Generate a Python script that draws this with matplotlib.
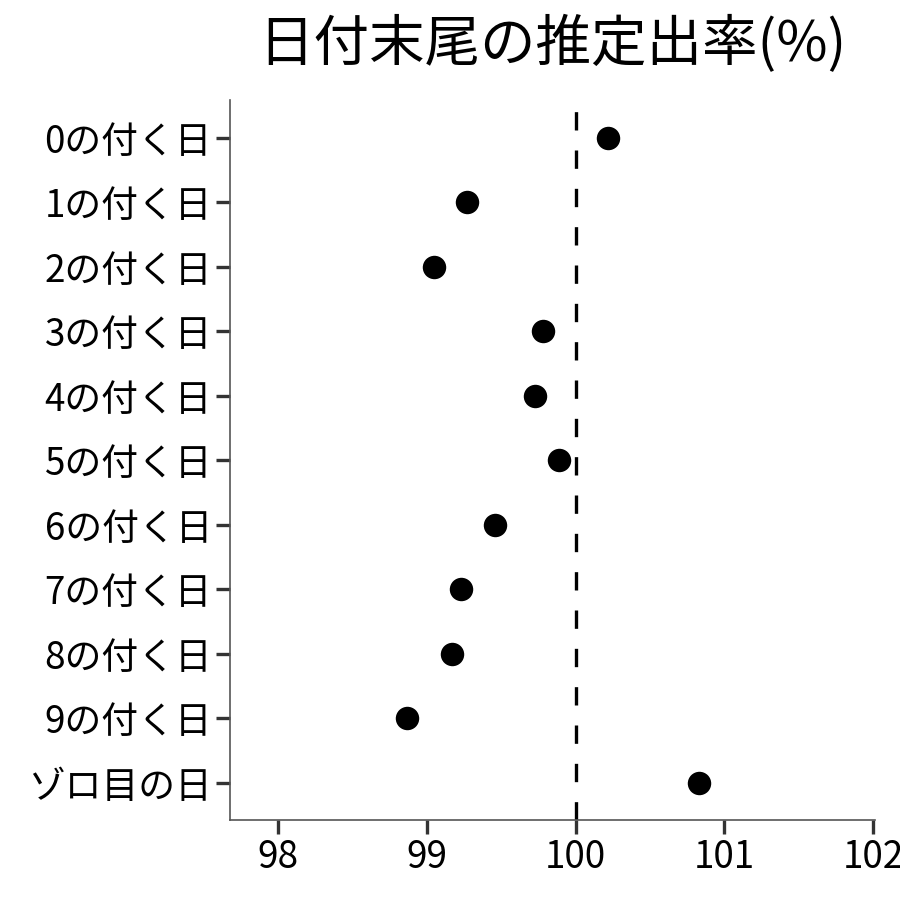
import matplotlib
matplotlib.use("Agg")
import matplotlib.pyplot as plt

plt.rcParams['font.family'] = ['Noto Sans CJK JP', 'DejaVu Sans']

# 日付末尾ごとの推定出率(%)
labels = ["0の付く日", "1の付く日", "2の付く日", "3の付く日", "4の付く日",
          "5の付く日", "6の付く日", "7の付く日", "8の付く日", "9の付く日", "ゾロ目の日"]
rates = [100.22, 99.27, 99.05, 99.78, 99.73, 99.89, 99.46, 99.23, 99.17, 98.87, 100.83]
xticks = [98, 99, 100, 101, 102]

fig = plt.figure(figsize=(9, 9), dpi=100)
ax = fig.add_axes([0.2556, 0.0889, 0.7164, 0.8])

ypos = list(range(len(labels)))[::-1]
ax.axvline(100, color="black", lw=2.4, linestyle=(0, (5.5, 6.0)), zorder=1)
ax.scatter(rates, ypos, s=285, color="black", zorder=3, linewidths=0)

ax.set_yticks(ypos)
ax.set_yticklabels(labels)
ax.set_xticks(xticks)
ax.set_xticklabels([str(t) for t in xticks])
ax.set_xlim(97.68, 102.01)
ax.set_ylim(-0.58, 10.59)

for side in ("top", "right"):
    ax.spines[side].set_visible(False)
for side in ("left", "bottom"):
    ax.spines[side].set_color("#555555")
    ax.spines[side].set_linewidth(1.2)

ax.tick_params(axis="both", length=10, width=2.4, color="#333333",
               labelsize=26.5, labelcolor="black", pad=3)

fig.text(0.614, 0.95, "日付末尾の推定出率(%)", ha="center", va="center", fontsize=40)

fig.savefig("out.png", dpi=100)
